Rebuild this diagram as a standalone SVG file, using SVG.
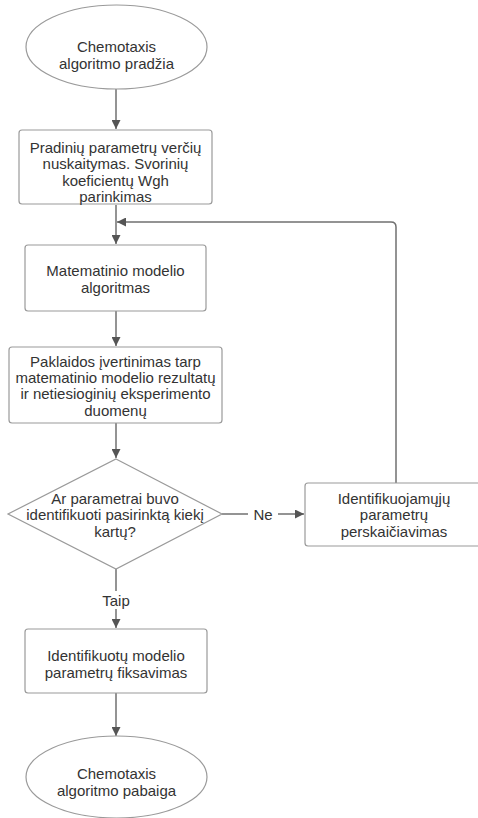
<svg xmlns="http://www.w3.org/2000/svg" width="478" height="818" viewBox="0 0 478 818">
<defs>
<style>
.node{fill:#ffffff;stroke:#9a9a9a;stroke-width:1.2}
.t{font-family:"Liberation Sans",Arial,sans-serif;font-size:15px;fill:#333333;text-anchor:middle;dominant-baseline:central}
.c{fill:none;stroke:#707070;stroke-width:1.5}
.lbl{fill:#ffffff;stroke:none}
</style>
<marker id="arr" viewBox="0 0 10 10" refX="10" refY="5" markerWidth="9" markerHeight="9" markerUnits="userSpaceOnUse" orient="auto">
<path d="M0,0 L10,5 L0,10 Z" fill="#555555"/>
</marker>
</defs>
<rect width="478" height="818" fill="#ffffff"/>
<g id="connectors">
<path class="c" d="M116,89 V129" marker-end="url(#arr)"/>
<path class="c" d="M116,205 V244" marker-end="url(#arr)"/>
<path class="c" d="M396,483 V227 Q396,222 391,222 H117" marker-end="url(#arr)"/>
<path class="c" d="M116,311 V346" marker-end="url(#arr)"/>
<path class="c" d="M116,423 V458" marker-end="url(#arr)"/>
<path class="c" d="M222,514 H304" marker-end="url(#arr)"/>
<path class="c" d="M116,569 V628" marker-end="url(#arr)"/>
<path class="c" d="M116,693 V736" marker-end="url(#arr)"/>
<rect class="lbl" x="248" y="505" width="30" height="18"/>
<text class="t" x="263" y="514">Ne</text>
<rect class="lbl" x="98" y="591" width="36" height="18"/>
<text class="t" x="116" y="600">Taip</text>
</g>
<g id="start">
<ellipse class="node" cx="116.5" cy="47" rx="90.5" ry="42"/>
<text class="t" x="116.5" y="46">Chemotaxis</text>
<text class="t" x="116.5" y="63">algoritmo pradžia</text>
</g>
<g id="init">
<rect class="node" x="19" y="130" width="193" height="74" rx="3"/>
<text class="t" x="115.5" y="147">Pradinių parametrų verčių</text>
<text class="t" x="115.5" y="163.5">nuskaitymas. Svorinių</text>
<text class="t" x="115.5" y="180">koeficientų Wgh</text>
<text class="t" x="115.5" y="196.5">parinkimas</text>
</g>
<g id="model">
<rect class="node" x="25" y="245" width="181" height="66" rx="3"/>
<text class="t" x="115.5" y="270">Matematinio modelio</text>
<text class="t" x="115.5" y="287">algoritmas</text>
</g>
<g id="error">
<rect class="node" x="9" y="347" width="213" height="76" rx="3"/>
<text class="t" x="115.5" y="361">Paklaidos įvertinimas tarp</text>
<text class="t" x="115.5" y="377">matematinio modelio rezultatų</text>
<text class="t" x="115.5" y="393.5">ir netiesioginių eksperimento</text>
<text class="t" x="115.5" y="410">duomenų</text>
</g>
<g id="decision">
<polygon class="node" points="116,459 222,514 116,569 8,514"/>
<text class="t" x="115" y="498">Ar parametrai buvo</text>
<text class="t" x="115" y="514.5">identifikuoti pasirinktą kiekį</text>
<text class="t" x="115" y="531">kartų?</text>
</g>
<g id="recalc">
<rect class="node" x="305" y="483" width="182" height="63" rx="3"/>
<text class="t" x="394" y="498">Identifikuojamųjų</text>
<text class="t" x="394" y="514.5">parametrų</text>
<text class="t" x="394" y="531">perskaičiavimas</text>
</g>
<g id="fix">
<rect class="node" x="25" y="629" width="182" height="64" rx="3"/>
<text class="t" x="116" y="655">Identifikuotų modelio</text>
<text class="t" x="116" y="672">parametrų fiksavimas</text>
</g>
<g id="end">
<ellipse class="node" cx="116.5" cy="777" rx="90.5" ry="41"/>
<text class="t" x="116.5" y="773">Chemotaxis</text>
<text class="t" x="116.5" y="790">algoritmo pabaiga</text>
</g>
</svg>
